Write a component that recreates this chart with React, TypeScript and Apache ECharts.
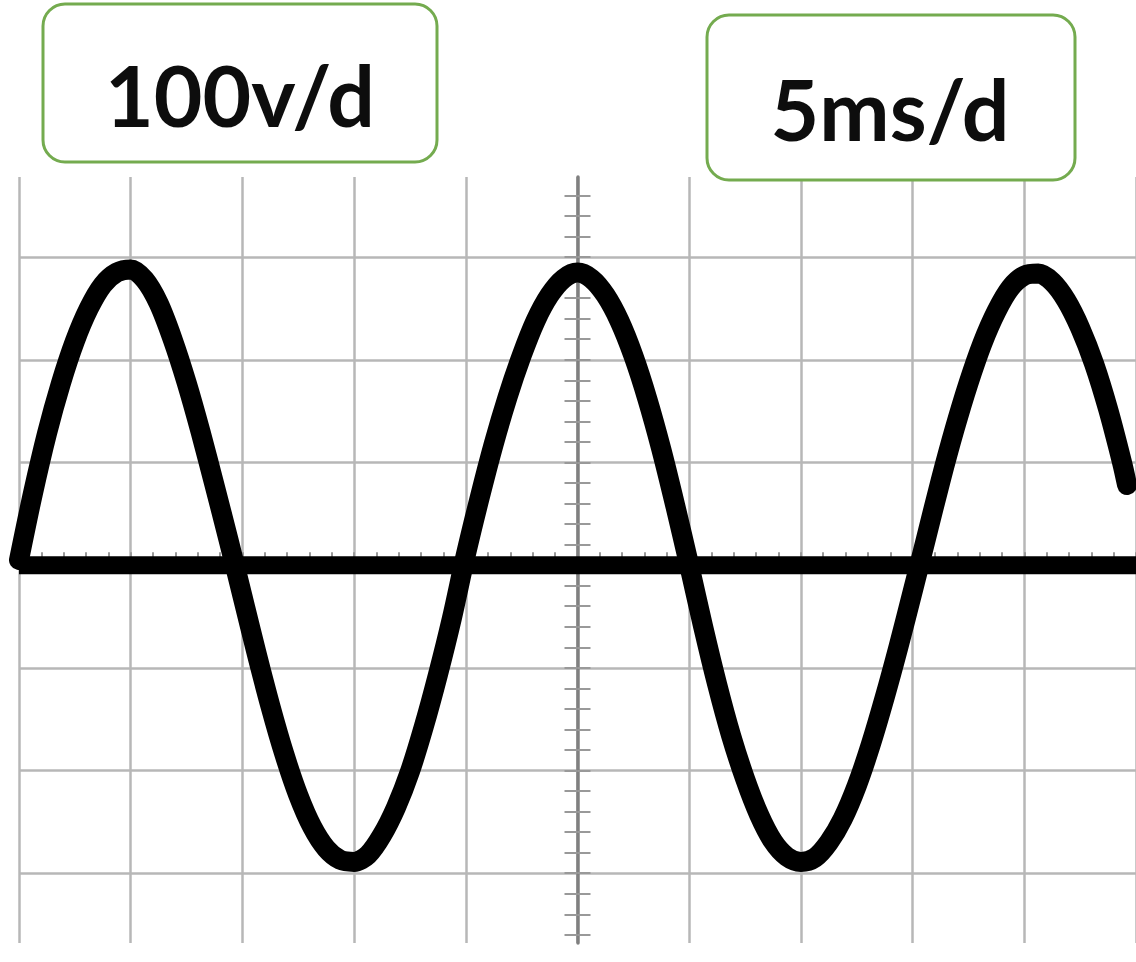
import React, { useEffect, useRef } from "react";
import * as echarts from "echarts";

// Trace (x in time divisions, y in voltage divisions)
const waveX = [
  -5, -4.875, -4.75, -4.625, -4.5, -4.375, -4.25, -4.125, -4.0,
  -3.875, -3.75, -3.625, -3.5, -3.375, -3.25, -3.125, -3.0,
  -2.875, -2.75, -2.625, -2.5, -2.375, -2.25, -2.125, -2.0,
  -1.875, -1.75, -1.625, -1.5, -1.375, -1.25, -1.125, -1.0,
  -0.875, -0.75, -0.625, -0.5, -0.375, -0.25, -0.125, 0,
  0.125, 0.25, 0.375, 0.5, 0.625, 0.75, 0.875, 1.0,
  1.125, 1.25, 1.375, 1.5, 1.625, 1.75, 1.875, 2.0,
  2.125, 2.25, 2.375, 2.5, 2.625, 2.75, 2.875, 3.0,
  3.125, 3.25, 3.375, 3.5, 3.625, 3.75, 3.875, 4.0,
  4.125, 4.25, 4.375, 4.5, 4.625, 4.75, 4.875, 4.92,
];
const waveY = [
  0.05, 0.7, 1.28, 1.77, 2.18, 2.5, 2.73, 2.85, 2.88,
  2.78, 2.55, 2.2, 1.78, 1.3, 0.78, 0.25, -0.3,
  -0.85, -1.37, -1.84, -2.24, -2.55, -2.76, -2.87, -2.89,
  -2.82, -2.63, -2.36, -2.01, -1.57, -1.07, -0.52, 0.1,
  0.66, 1.18, 1.64, 2.04, 2.38, 2.63, 2.79, 2.85,
  2.79, 2.63, 2.38, 2.04, 1.62, 1.13, 0.58, 0.0,
  -0.6, -1.16, -1.66, -2.08, -2.43, -2.69, -2.84, -2.89,
  -2.85, -2.7, -2.47, -2.15, -1.75, -1.29, -0.79, -0.26,
  0.28, 0.82, 1.32, 1.77, 2.16, 2.47, 2.7, 2.82,
  2.84, 2.76, 2.58, 2.31, 1.96, 1.52, 1.0, 0.78,
];
const baselineX = [-5, 5];
const baselineY = [0, 0];
const horizontalDivisions = [-3, -2, -1, 1, 2, 3];
const voltLabel = "100v/d";
const timeLabel = "5ms/d";

export default function App() {
  const ref = useRef<HTMLDivElement>(null);

  useEffect(() => {
    const chart = echarts.init(ref.current as HTMLDivElement, null, { renderer: "svg" });
    const gridColor = "#b7b7b7";
    const tickColor = "#999999";
    const hiddenAxisParts = {
      axisLabel: { show: false },
      splitLine: { show: false },
    };
    const option = {
      animation: false,
      backgroundColor: "#ffffff",
      grid: [
        { left: 19, right: 0, top: 177, bottom: 19 },
        { left: 19, right: 0, top: 195.4, bottom: 27.2 },
      ],
      xAxis: [
        {
          type: "value",
          gridIndex: 0,
          min: -5,
          max: 5,
          interval: 1,
          axisLine: { show: false, onZero: true },
          axisLabel: { show: false },
          axisTick: { show: true, inside: true, length: 13, lineStyle: { color: tickColor, width: 2 } },
          minorTick: { show: true, splitNumber: 5, length: 13, lineStyle: { color: tickColor, width: 2 } },
          splitLine: { show: true, lineStyle: { color: gridColor, width: 2.5 } },
        },
        {
          type: "value",
          gridIndex: 1,
          min: -5,
          max: 5,
          interval: 1,
          axisLine: { show: false, onZero: true },
          axisTick: { show: false },
          ...hiddenAxisParts,
        },
      ],
      yAxis: [
        {
          type: "value",
          gridIndex: 0,
          min: -3.68,
          max: 3.78,
          z: 2,
          axisLine: { show: true, onZero: true, lineStyle: { color: "#808080", width: 3.5 } },
          axisTick: { show: false },
          ...hiddenAxisParts,
        },
        {
          type: "value",
          gridIndex: 1,
          position: "left",
          min: -3.6,
          max: 3.6,
          interval: 0.2,
          z: 2,
          axisLine: { show: false, onZero: true, onZeroAxisIndex: 1 },
          axisTick: { show: true, inside: false, length: 13, lineStyle: { color: tickColor, width: 2 } },
          ...hiddenAxisParts,
        },
        {
          type: "value",
          gridIndex: 1,
          position: "left",
          min: -3.6,
          max: 3.6,
          interval: 0.2,
          z: 2,
          axisLine: { show: false, onZero: true, onZeroAxisIndex: 1 },
          axisTick: { show: true, inside: true, length: 13, lineStyle: { color: tickColor, width: 2 } },
          ...hiddenAxisParts,
        },
      ],
      series: [
        {
          type: "line",
          xAxisIndex: 0,
          yAxisIndex: 0,
          silent: true,
          z: 3,
          symbol: "none",
          data: baselineX.map((x, i) => [x, baselineY[i]]),
          lineStyle: { color: "#000000", width: 18 },
          markLine: {
            silent: true,
            z: 1,
            symbol: "none",
            animation: false,
            label: { show: false },
            lineStyle: { type: "solid", color: gridColor, width: 2.5 },
            emphasis: { disabled: true },
            data: horizontalDivisions.map((v) => ({ yAxis: v })),
          },
        },
        {
          type: "line",
          xAxisIndex: 0,
          yAxisIndex: 0,
          silent: true,
          z: 4,
          symbol: "none",
          smooth: 0.3,
          data: waveX.map((x, i) => [x, waveY[i]]),
          lineStyle: { color: "#000000", width: 20, cap: "round", join: "round" },
        },
      ],
      graphic: [
        {
          type: "rect",
          z: 10,
          shape: { x: 43, y: 4, width: 394, height: 158, r: 22 },
          style: { fill: "#ffffff", stroke: "#74ab4f", lineWidth: 3 },
        },
        {
          type: "text",
          z: 11,
          x: 240,
          y: 94,
          style: {
            text: voltLabel,
            fontFamily: "Lato",
            fontWeight: "bold",
            fontSize: 84,
            fill: "#0d0d0d",
            align: "center",
            verticalAlign: "middle",
          },
        },
        {
          type: "rect",
          z: 10,
          shape: { x: 707, y: 15, width: 368, height: 165, r: 22 },
          style: { fill: "#ffffff", stroke: "#74ab4f", lineWidth: 3 },
        },
        {
          type: "text",
          z: 11,
          x: 890,
          y: 108,
          style: {
            text: timeLabel,
            fontFamily: "Lato",
            fontWeight: "bold",
            fontSize: 84,
            fill: "#0d0d0d",
            align: "center",
            verticalAlign: "middle",
          },
        },
      ],
    };
    chart.setOption(option as any);
    return () => chart.dispose();
  }, []);

  return (
    <div
      ref={ref}
      style={{ position: "absolute", left: 0, top: 0, width: 1136, height: 962, background: "#ffffff" }}
    />
  );
}
